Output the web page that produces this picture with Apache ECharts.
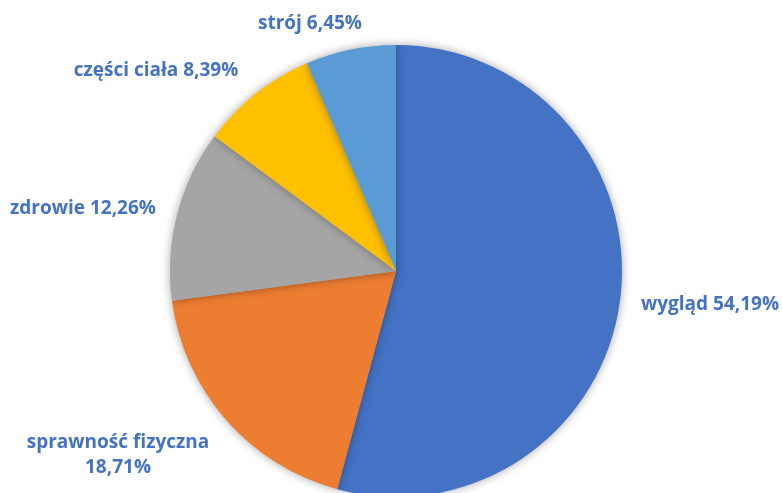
<!DOCTYPE html>
<html><head><meta charset="utf-8">
<script src="https://cdn.jsdelivr.net/npm/echarts@6/dist/echarts.min.js"></script>
<style>html,body{margin:0;padding:0;background:#fff}#c{width:782px;height:493px}</style>
</head><body><div id="c"></div>
<script>
const categories = ['wygląd', 'sprawność fizyczna', 'zdrowie', 'części ciała', 'strój'];
const values = [54.19, 18.71, 12.26, 8.39, 6.45];
const labelTexts = ['wygląd 54,19%', 'sprawność fizyczna\n18,71%', 'zdrowie 12,26%', 'części ciała 8,39%', 'strój 6,45%'];
const colors = ['#4472C4', '#ED7D31', '#A5A5A5', '#FFC000', '#5B9BD5'];
const labelPos = [[710, 305], [118, 455], [83, 209], [156, 71], [310, 24]];

const chart = echarts.init(document.getElementById('c'));
chart.setOption({
  animation: false,
  series: [{
    type: 'pie',
    center: [396, 271],
    radius: 226,
    startAngle: 90,
    clockwise: true,
    data: categories.map((c, i) => ({ name: c, value: values[i], itemStyle: { color: colors[i] } })),
    itemStyle: { shadowBlur: 10, shadowColor: 'rgba(0,0,0,0.35)', borderWidth: 0 },
    label: {
      show: true,
      position: 'outside',
      formatter: p => labelTexts[p.dataIndex],
      color: '#4472C4',
      fontFamily: 'Open Sans',
      fontWeight: 'bold',
      fontSize: 19,
      lineHeight: 25,
      align: 'center',
      overflow: 'none'
    },
    labelLine: { show: false },
    labelLayout: p => ({ x: labelPos[p.dataIndex][0], y: labelPos[p.dataIndex][1], align: 'center', verticalAlign: 'middle' })
  }]
});
</script></body></html>
